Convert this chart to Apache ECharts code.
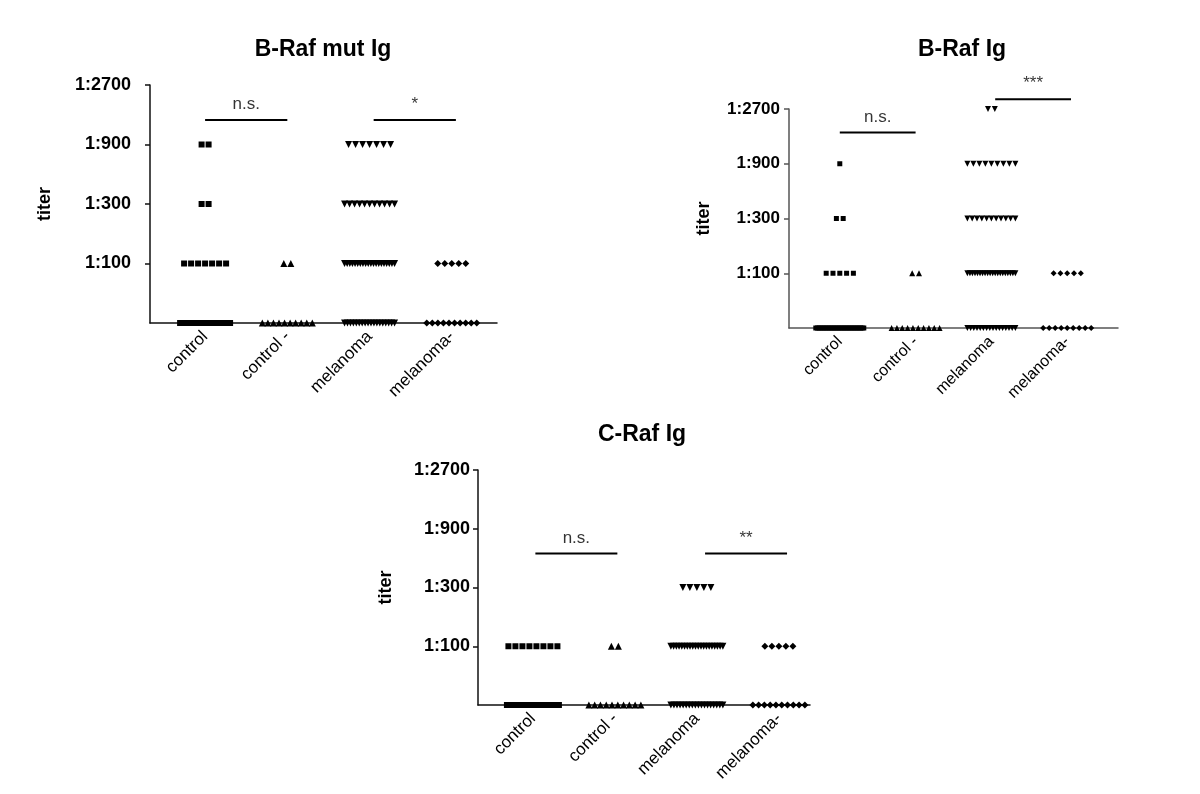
<!DOCTYPE html>
<html>
<head>
<meta charset="utf-8">
<script src="https://cdn.jsdelivr.net/npm/echarts@6/dist/echarts.min.js"></script>
<style>
    html, body { margin: 0; background: #fff; }
    #chart { width: 1200px; height: 794px; }
</style>
</head>
<body>
<div id="chart"></div>
<script>
    // y value = titer step, 0 = below 1:100
    const titerLabels = ['', '1:100', '1:300', '1:900', '1:2700'];
    const groups = ['control', 'control -', 'melanoma', 'melanoma-'];
    const groupSymbols = ['rect', 'triangle', 'triangle', 'diamond'];
    const groupRotate = [0, 0, 180, 0];

    // number of sera per titer step [neg, 1:100, 1:300, 1:900, 1:2700], one row per group
    const bRafMutCounts = [
        [30, 7, 2, 2, 0],
        [10, 2, 0, 0, 0],
        [18, 20, 11, 7, 0],
        [10, 5, 0, 0, 0]
    ];
    const bRafCounts = [
        [30, 5, 2, 1, 0],
        [10, 2, 0, 0, 0],
        [16, 20, 11, 9, 2],
        [9, 5, 0, 0, 0]
    ];
    const cRafCounts = [
        [30, 8, 0, 0, 0],
        [10, 2, 0, 0, 0],
        [18, 20, 5, 0, 0],
        [10, 5, 0, 0, 0]
    ];

    // significance bars: [from group, to group, height (titer step), text]
    const bRafMutSig = [[1, 2, 3.41, 'n.s.'], [3.05, 4.05, 3.41, '*']];
    const bRafSig = [[1, 2, 3.57, 'n.s.'], [3.05, 4.05, 4.18, '***']];
    const cRafSig = [[1.03, 2.03, 2.58, 'n.s.'], [3.1, 4.1, 2.58, '**']];

    const font = 'Arial, "Liberation Sans", sans-serif';

    const panels = [
        {
            title: 'B-Raf mut Ig', counts: bRafMutCounts, sig: bRafMutSig,
            left: 150, top: 85, width: 347, height: 238, xMin: 0.33, xMax: 4.55,
            titleX: 318, titleY: 33, labelMargin: 19, nameGap: 96, axisColor: '#111',
            step: 7, spreadWidth: 50, sizes: [6, 7, 7, 7], fs: 17
        },
        {
            title: 'B-Raf Ig', counts: bRafCounts, sig: bRafSig,
            left: 789, top: 109, width: 329, height: 219, xMin: 0.33, xMax: 4.67,
            titleX: 957, titleY: 33, labelMargin: 9, nameGap: 76, axisColor: '#555',
            step: 6.8, spreadWidth: 48, sizes: [5, 6, 6, 6], fs: 16
        },
        {
            title: 'C-Raf Ig', counts: cRafCounts, sig: cRafSig,
            left: 478, top: 470, width: 332, height: 235, xMin: 0.33, xMax: 4.38,
            titleX: 637, titleY: 418, labelMargin: 8, nameGap: 83, axisColor: '#111',
            step: 7, spreadWidth: 52, sizes: [6, 7, 7, 7], fs: 17
        }
    ];

    // Prism-like column scatter: points side by side, squeezed when too many
    function spread(n, stepPx, maxPx, pxPerUnit) {
        let step = n > 1 ? Math.min(stepPx, maxPx / (n - 1)) : 0;
        let out = [];
        for (let i = 0; i < n; i++) {
            out.push(((i - (n - 1) / 2) * step) / pxPerUnit);
        }
        return out;
    }

    let chart = echarts.init(document.getElementById('chart'));
    let title = [], grid = [], xAxis = [], yAxis = [], series = [];

    panels.forEach(function(p, pi) {
        let pxPerUnit = p.width / (p.xMax - p.xMin);

        title.push({
            text: p.title,
            left: p.titleX,
            top: p.titleY,
            textAlign: 'center',
            textStyle: { fontFamily: font, fontSize: 23, fontWeight: 'bold', color: '#000' }
        });
        grid.push({ left: p.left, top: p.top, width: p.width, height: p.height });
        xAxis.push({
            gridIndex: pi,
            type: 'value',
            min: p.xMin,
            max: p.xMax,
            axisLine: { show: true, lineStyle: { color: p.axisColor, width: 1.5 } },
            axisTick: { show: false },
            splitLine: { show: false },
            axisLabel: {
                customValues: [1, 2, 3, 4],
                formatter: function(v) { return groups[Math.round(v) - 1]; },
                rotate: 45,
                margin: 11,
                fontFamily: font,
                fontSize: p.fs,
                color: '#000'
            }
        });
        yAxis.push({
            gridIndex: pi,
            type: 'value',
            min: 0,
            max: 4,
            name: 'titer',
            nameLocation: 'middle',
            nameGap: p.nameGap,
            nameTextStyle: { fontFamily: font, fontSize: 18, fontWeight: 'bold', color: '#000' },
            axisLine: { show: true, lineStyle: { color: p.axisColor, width: 1.5 } },
            axisTick: { show: true, length: 5, customValues: [1, 2, 3, 4], lineStyle: { color: p.axisColor, width: 1.5 } },
            splitLine: { show: false },
            axisLabel: {
                customValues: [1, 2, 3, 4],
                formatter: function(v) { return titerLabels[Math.round(v)]; },
                margin: p.labelMargin,
                fontFamily: font,
                fontSize: p.fs + 1,
                fontWeight: 'bold',
                color: '#000'
            }
        });

        p.counts.forEach(function(levels, g) {
            let data = [];
            levels.forEach(function(n, level) {
                spread(n, p.step, p.spreadWidth, pxPerUnit).forEach(function(off) {
                    data.push([g + 1 + off, level]);
                });
            });
            series.push({
                type: 'scatter',
                name: groups[g],
                xAxisIndex: pi,
                yAxisIndex: pi,
                symbol: groupSymbols[g],
                symbolRotate: groupRotate[g],
                symbolSize: p.sizes[g],
                itemStyle: { color: '#000', opacity: 1 },
                clip: false,
                silent: true,
                data: data
            });
        });

        p.sig.forEach(function(s) {
            series.push({
                type: 'line',
                xAxisIndex: pi,
                yAxisIndex: pi,
                symbol: 'none',
                clip: false,
                silent: true,
                lineStyle: { color: '#000', width: 2 },
                data: [[s[0], s[2]], [s[1], s[2]]]
            });
            series.push({
                type: 'scatter',
                xAxisIndex: pi,
                yAxisIndex: pi,
                symbolSize: 0,
                clip: false,
                silent: true,
                label: {
                    show: true,
                    position: 'top',
                    distance: 7,
                    formatter: s[3],
                    fontFamily: font,
                    fontSize: 17,
                    color: '#000'
                },
                data: [[(s[0] + s[1]) / 2, s[2]]]
            });
        });
    });

    chart.setOption({
        animation: false,
        backgroundColor: '#fff',
        title: title,
        grid: grid,
        xAxis: xAxis,
        yAxis: yAxis,
        series: series
    });
</script>
</body>
</html>
